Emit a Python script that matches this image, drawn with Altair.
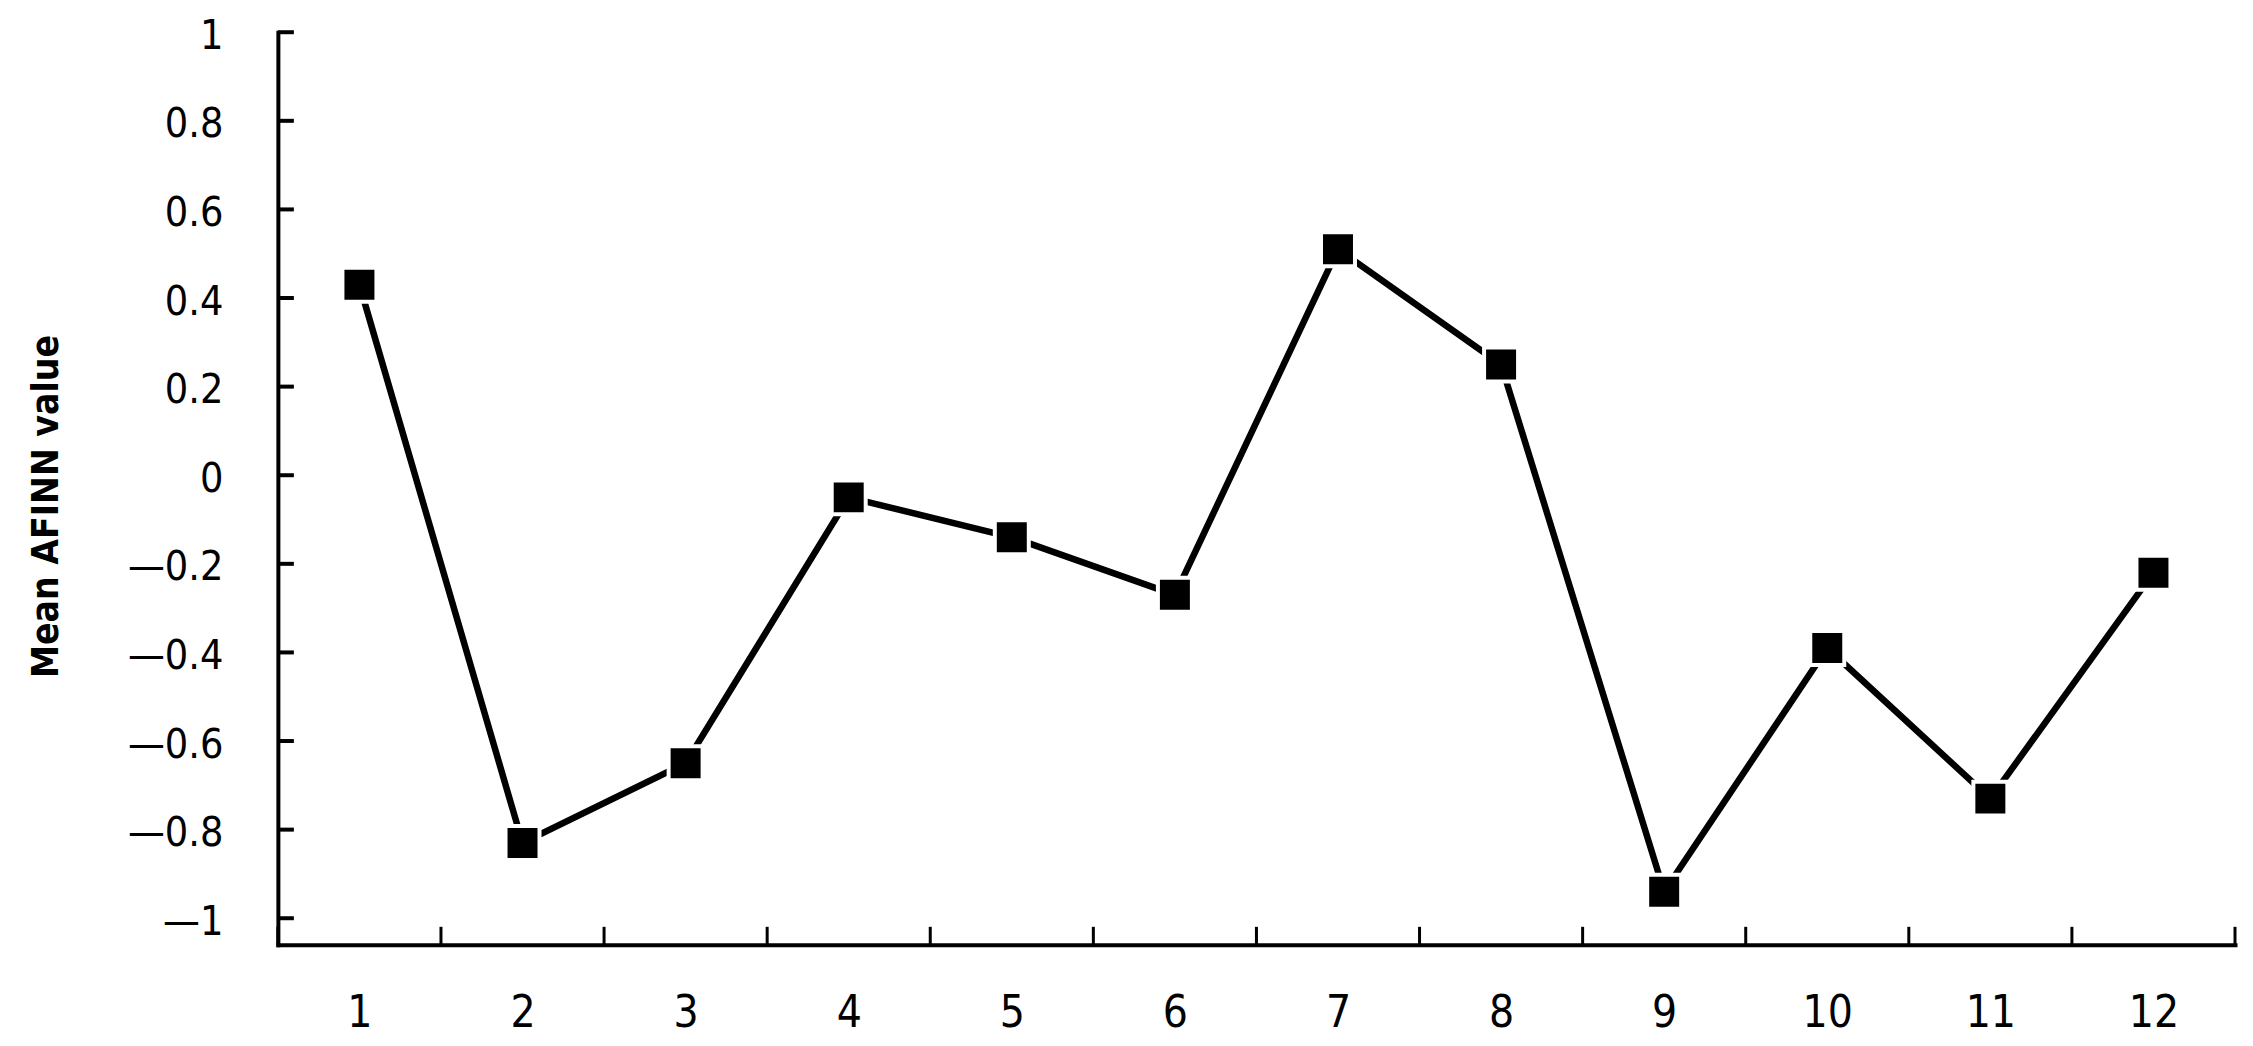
import altair as alt
import pandas as pd

# ---- data ----
months = [1, 2, 3, 4, 5, 6, 7, 8, 9, 10, 11, 12]
values = [0.43, -0.83, -0.65, -0.05, -0.14, -0.27, 0.51, 0.25, -0.94, -0.39, -0.73, -0.22]
y_ticks = [-1, -0.8, -0.6, -0.4, -0.2, 0, 0.2, 0.4, 0.6, 0.8, 1]
x_bounds = [0.5, 1.5, 2.5, 3.5, 4.5, 5.5, 6.5, 7.5, 8.5, 9.5, 10.5, 11.5, 12.5]
y_title = "Mean AFINN value"

W, H = 1958, 913
FONT = "'DejaVu Sans Condensed', 'Liberation Sans', sans-serif"

df = pd.DataFrame({"month": months, "value": values})
yt = pd.DataFrame({"v": y_ticks})
xb = pd.DataFrame({"b": x_bounds})

xs = alt.Scale(domain=[0.5, 12.5], nice=False, zero=False)
ys = alt.Scale(domain=[-1.06, 1], nice=False, zero=False)

x_axis = alt.Axis(
    values=months, ticks=False, grid=False, domainColor="black", domainWidth=4,
    domainCap="square", labelFont=FONT, labelFontSize=44, labelColor="black",
    labelPadding=47, title=None,
)
y_axis = alt.Axis(
    values=y_ticks, ticks=False, grid=False, domainColor="black", domainWidth=4,
    domainCap="square", labelFont=FONT, labelFontSize=41, labelColor="black",
    labelPadding=55, labelOffset=4,
    labelExpr="datum.value < 0 ? '\u2014' + format(-datum.value, '~g') : format(datum.value, '~g')",
    title=y_title, titleFont=FONT, titleFontSize=37, titleFontWeight="bold",
    titleColor="black", titleAngle=270, titleAlign="center", titleBaseline="middle",
    titleX=-231, titleY=474,
)

line = alt.Chart(df).mark_line(color="black", strokeWidth=6.5).encode(
    x=alt.X("month:Q", scale=xs, axis=x_axis),
    y=alt.Y("value:Q", scale=ys, axis=y_axis),
)

points = alt.Chart(df).mark_square(
    size=1156, fill="black", stroke="white", strokeWidth=4, filled=True, opacity=1
).encode(
    x=alt.X("month:Q", scale=xs, axis=x_axis),
    y=alt.Y("value:Q", scale=ys, axis=y_axis),
)

yticks = alt.Chart(yt).mark_rule(color="black", strokeWidth=4).encode(
    y=alt.Y("v:Q", scale=ys, axis=y_axis),
    x=alt.value(0),
    x2=alt.value(16),
)

xticks = alt.Chart(xb).mark_rule(color="black", strokeWidth=3).encode(
    x=alt.X("b:Q", scale=xs, axis=x_axis),
    y=alt.value(H),
    y2=alt.value(H - 18),
)

chart = alt.layer(line, yticks, xticks, points).properties(
    width=W, height=H,
    padding={"left": 270, "top": 24, "right": 10, "bottom": 100},
    autosize=alt.AutoSizeParams(type="none"),
    background="white",
).configure_view(stroke=None)

chart.save("out.html", embed_options={"renderer": "svg", "actions": False})
